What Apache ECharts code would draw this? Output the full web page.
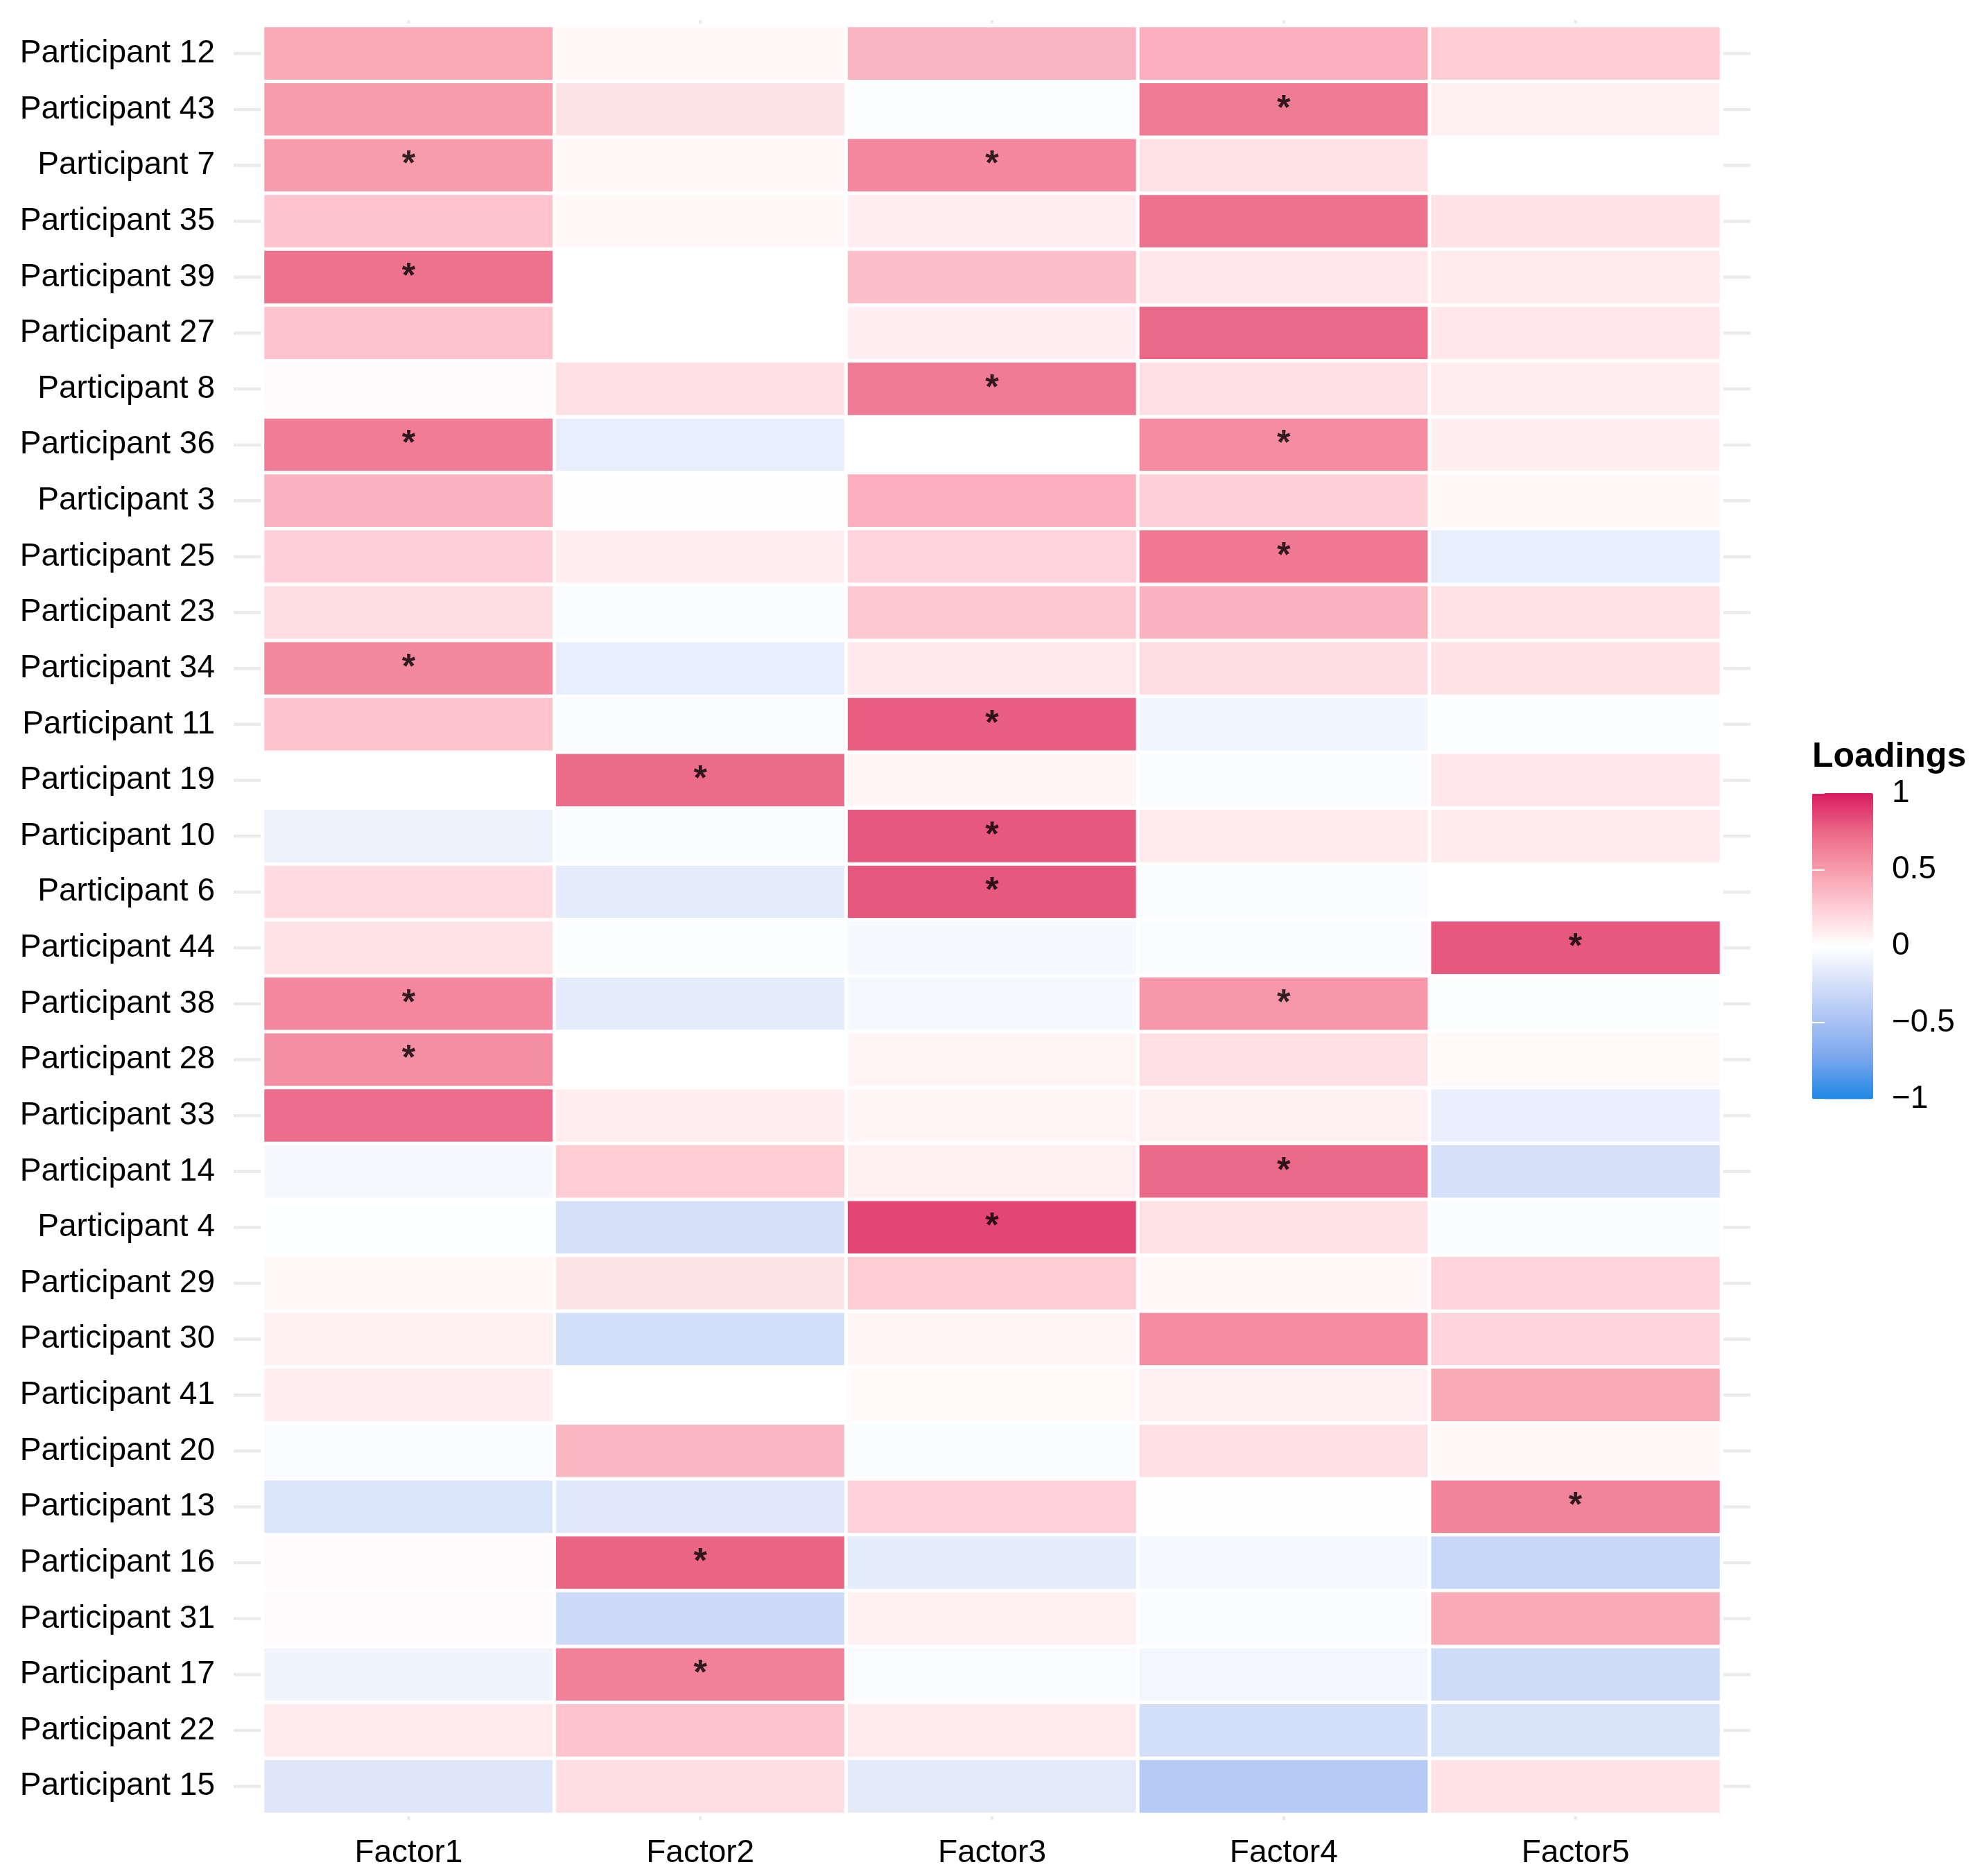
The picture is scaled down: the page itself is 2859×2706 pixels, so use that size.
<!DOCTYPE html>
<html>
<head>
<meta charset="utf-8">
<title>Loadings heatmap</title>
<script src="https://cdn.jsdelivr.net/npm/echarts@6/dist/echarts.min.js"></script>
<style>
  html, body { margin: 0; padding: 0; background: #fff; }
  #chart { width: 2859px; height: 2706px; }
</style>
</head>
<body>
<div id="chart"></div>
<script>
// rows, top to bottom
var participants = ['Participant 12', 'Participant 43', 'Participant 7', 'Participant 35', 'Participant 39',
  'Participant 27', 'Participant 8', 'Participant 36', 'Participant 3', 'Participant 25', 'Participant 23',
  'Participant 34', 'Participant 11', 'Participant 19', 'Participant 10', 'Participant 6', 'Participant 44',
  'Participant 38', 'Participant 28', 'Participant 33', 'Participant 14', 'Participant 4', 'Participant 29',
  'Participant 30', 'Participant 41', 'Participant 20', 'Participant 13', 'Participant 16', 'Participant 31',
  'Participant 17', 'Participant 22', 'Participant 15'];
var factors = ['Factor1', 'Factor2', 'Factor3', 'Factor4', 'Factor5'];

// loadings per factor, same order as participants
var factor1 = [0.44, 0.50, 0.50, 0.30, 0.70, 0.30, 0.02, 0.65, 0.39, 0.24, 0.17, 0.59, 0.30, 0.00, -0.11, 0.18,
  0.15, 0.60, 0.56, 0.72, -0.06, -0.01, 0.04, 0.07, 0.09, -0.03, -0.21, 0.02, 0.02, -0.09, 0.10, -0.19];
var factor2 = [0.04, 0.14, 0.04, 0.04, 0.00, 0.00, 0.16, -0.14, 0.01, 0.08, -0.03, -0.14, -0.03, 0.73, -0.03, -0.15,
  -0.02, -0.15, 0.00, 0.09, 0.26, -0.24, 0.14, -0.25, 0.00, 0.36, -0.18, 0.76, -0.29, 0.63, 0.30, 0.17];
var factor3 = [0.38, -0.02, 0.60, 0.08, 0.33, 0.08, 0.66, 0.00, 0.40, 0.22, 0.28, 0.11, 0.78, 0.05, 0.80, 0.80,
  -0.06, -0.06, 0.05, 0.05, 0.07, 0.86, 0.26, 0.05, 0.03, -0.03, 0.23, -0.15, 0.07, -0.03, 0.10, -0.16];
var factor4 = [0.40, 0.66, 0.15, 0.70, 0.12, 0.74, 0.16, 0.57, 0.24, 0.67, 0.39, 0.17, -0.08, -0.03, 0.10, -0.03,
  -0.03, 0.52, 0.16, 0.07, 0.74, 0.15, 0.04, 0.57, 0.07, 0.16, 0.01, -0.06, -0.03, -0.07, -0.25, -0.42];
var factor5 = [0.26, 0.07, 0.00, 0.15, 0.10, 0.12, 0.09, 0.08, 0.04, -0.14, 0.15, 0.15, -0.02, 0.12, 0.10, 0.00,
  0.80, -0.02, 0.03, -0.13, -0.24, -0.03, 0.22, 0.22, 0.44, 0.04, 0.62, -0.32, 0.43, -0.28, -0.22, 0.15];

// cells marked with an asterisk
var starred = [
  ['Factor4', 'Participant 43'], ['Factor1', 'Participant 7'], ['Factor3', 'Participant 7'],
  ['Factor1', 'Participant 39'], ['Factor3', 'Participant 8'], ['Factor1', 'Participant 36'],
  ['Factor4', 'Participant 36'], ['Factor4', 'Participant 25'], ['Factor1', 'Participant 34'],
  ['Factor3', 'Participant 11'], ['Factor2', 'Participant 19'], ['Factor3', 'Participant 10'],
  ['Factor3', 'Participant 6'], ['Factor5', 'Participant 44'], ['Factor1', 'Participant 38'],
  ['Factor4', 'Participant 38'], ['Factor1', 'Participant 28'], ['Factor4', 'Participant 14'],
  ['Factor3', 'Participant 4'], ['Factor5', 'Participant 13'], ['Factor2', 'Participant 16'],
  ['Factor2', 'Participant 17']
];

// blue - white - pink, stops sampled along a Lab interpolation
var scaleColors = ['#1E88E5', '#74A4EC', '#A7C1F3', '#D4E0F9', '#FFFFFF',
  '#FECED5', '#F79CAC', '#EB6786', '#D81B60'];

var columns = [factor1, factor2, factor3, factor4, factor5];
var cells = [];
columns.forEach(function (col, i) {
  col.forEach(function (v, j) {
    cells.push([factors[i], participants[j], v]);
  });
});

var font = 'Liberation Sans, Arial, sans-serif';
var chart = echarts.init(document.getElementById('chart'));

chart.setOption({
  animation: false,
  backgroundColor: '#ffffff',
  textStyle: { fontFamily: font },
  title: {
    text: 'Loadings',
    left: 2614,
    top: 1067,
    padding: 0,
    textStyle: { fontSize: 50, fontWeight: 'bold', color: '#000', fontFamily: font }
  },
  grid: [
    { left: 379, top: 37, width: 2104, height: 2580 },
    { left: 2614, top: 1144, width: 88, height: 441.5 }
  ],
  xAxis: [
    {
      type: 'category',
      data: factors,
      gridIndex: 0,
      axisLine: { show: false },
      axisTick: { show: false },
      splitLine: { show: false },
      axisLabel: { interval: 0, fontSize: 46, color: '#000', margin: 33, fontFamily: font }
    },
    { type: 'value', gridIndex: 1, show: false, min: 0, max: 1 }
  ],
  yAxis: [
    {
      type: 'category',
      data: participants,
      inverse: true,
      gridIndex: 0,
      axisLine: { show: false },
      axisTick: { show: false },
      splitLine: { show: false },
      axisLabel: { interval: 0, fontSize: 46, color: '#000', margin: 69, fontFamily: font }
    },
    {
      type: 'value',
      gridIndex: 1,
      position: 'right',
      min: -1,
      max: 1,
      interval: 0.5,
      z: 10,
      axisLine: { show: false },
      splitLine: { show: false },
      axisTick: { show: true, inside: true, length: 18, lineStyle: { color: '#fff', width: 2 } },
      axisLabel: {
        fontSize: 46, color: '#000', margin: 27, fontFamily: font,
        formatter: function (v) { return String(v).replace('-', '\u2212'); }
      }
    },
    {
      type: 'value',
      gridIndex: 1,
      position: 'left',
      min: -1,
      max: 1,
      interval: 0.5,
      z: 10,
      axisLine: { show: false },
      splitLine: { show: false },
      axisLabel: { show: false },
      axisTick: { show: true, inside: true, length: 18, lineStyle: { color: '#fff', width: 2 } }
    }
  ],
  visualMap: {
    type: 'continuous',
    seriesIndex: 2,
    min: -1,
    max: 1,
    calculable: false,
    hoverLink: false,
    orient: 'vertical',
    left: 2614,
    top: 1144,
    padding: 0,
    itemWidth: 88,
    itemHeight: 441.5,
    inRange: { color: scaleColors }
  },
  series: [
    {
      // panel grid lines (only the ends outside the tiles stay visible)
      type: 'custom',
      xAxisIndex: 0,
      yAxisIndex: 0,
      z: 1,
      silent: true,
      data: factors.map(function (f) { return [f, participants[0]]; }),
      renderItem: function (params, api) {
        var c = api.coord([api.value(0), api.value(1)]);
        var s = api.size([1, 1]);
        var cs = params.coordSys;
        return {
          type: 'line',
          shape: { x1: c[0], y1: cs.y - 0.1 * s[1], x2: c[0], y2: cs.y + cs.height + 0.1 * s[1] },
          style: { stroke: '#ebebeb', lineWidth: 4.5 }
        };
      }
    },
    {
      type: 'custom',
      xAxisIndex: 0,
      yAxisIndex: 0,
      z: 1,
      silent: true,
      data: participants.map(function (p) { return [factors[0], p]; }),
      renderItem: function (params, api) {
        var c = api.coord([api.value(0), api.value(1)]);
        var s = api.size([1, 1]);
        var cs = params.coordSys;
        return {
          type: 'line',
          shape: { x1: cs.x - 0.1 * s[0], y1: c[1], x2: cs.x + cs.width + 0.1 * s[0], y2: c[1] },
          style: { stroke: '#ebebeb', lineWidth: 4.5 }
        };
      }
    },
    {
      name: 'Loadings',
      type: 'heatmap',
      xAxisIndex: 0,
      yAxisIndex: 0,
      z: 2,
      data: cells,
      itemStyle: { borderColor: '#ffffff', borderWidth: 5 },
      emphasis: { disabled: true }
    },
    {
      type: 'scatter',
      xAxisIndex: 0,
      yAxisIndex: 0,
      z: 3,
      symbolSize: 0,
      silent: true,
      data: starred,
      label: {
        show: true,
        position: 'inside',
        formatter: '*',
        fontSize: 50,
        fontWeight: 'bold',
        color: '#000',
        fontFamily: font
      }
    }
  ]
});
</script>
</body>
</html>
